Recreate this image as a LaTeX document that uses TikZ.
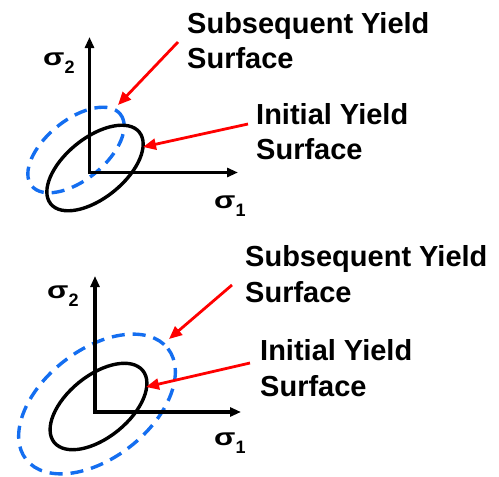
\documentclass[tikz,border=0pt]{standalone}
\usepackage{fontspec}
\setmainfont{Liberation Sans}
\usetikzlibrary{arrows.meta}
\definecolor{surfblue}{RGB}{20,110,240}
\tikzset{
  axis/.style={line width=3.3pt,-{Triangle[length=11pt,width=9pt]}},
  initsurf/.style={line width=3.4pt,black},
  subsurf/.style={line width=3.4pt,surfblue,dash pattern=on 13pt off 8pt},
  pointer/.style={line width=2.8pt,red,-{Triangle[length=13pt,width=11pt]}},
  lbl/.style={inner sep=0pt,anchor=base west,font=\fontsize{29}{35}\selectfont\bfseries},
  sig/.style={inner sep=0pt,anchor=base west,font=\fontsize{24}{24}\selectfont\bfseries}
}
\newcommand{\sigsub}[1]{\scalebox{1.3}[1]{σ}\raisebox{-8pt}{\fontsize{18}{18}\selectfont\bfseries #1}}
\begin{document}
\begin{tikzpicture}[x=1pt,y=-1pt]
\useasboundingbox (0,0) rectangle (499,477);
% ---------- top diagram ----------
\coordinate (o1) at (89.5,172.5);
\coordinate (y1) at (89.5,37);
\coordinate (x1) at (238,172.5);
\draw[subsurf,rotate around={39:(76,150)}] (76,150) ellipse [x radius=57, y radius=30];
\draw[initsurf,rotate around={39:(95,168)}] (95,168) ellipse [x radius=57, y radius=30];
\draw[axis] (o1) -- (y1);
\draw[axis] ([xshift=-1.6pt]o1) -- (x1);
\node[sig] (s2top) at (43,65) {\sigsub{2}};
\node[sig] (s1top) at (214,208) {\sigsub{1}};
\node[lbl] (subA1) at (187,33) {Subsequent Yield};
\node[lbl] (subA2) at (187,68) {Surface};
\node[lbl] (iniA1) at (256,124) {Initial Yield};
\node[lbl] (iniA2) at (256,159) {Surface};
\coordinate (subAtail) at (178,42);
\coordinate (subAhead) at (118,105);
\coordinate (iniAtail) at (248,124);
\coordinate (iniAhead) at (143,147);
\draw[pointer] (subAtail) -- (subAhead);
\draw[pointer] (iniAtail) -- (iniAhead);
% ---------- bottom diagram ----------
\coordinate (o2) at (95,412);
\coordinate (y2) at (95,276);
\coordinate (x2) at (241,412);
\draw[subsurf,rotate around={38:(97,404)}] (97,404) ellipse [x radius=90, y radius=54];
\draw[initsurf,rotate around={39:(98.5,406.5)}] (98.5,406.5) ellipse [x radius=57, y radius=31];
\draw[axis] (o2) -- (y2);
\draw[axis] ([xshift=-1.6pt]o2) -- (x2);
\node[sig] (s2bot) at (47,298) {\sigsub{2}};
\node[sig] (s1bot) at (214,445) {\sigsub{1}};
\node[lbl] (subB1) at (245,266) {Subsequent Yield};
\node[lbl] (subB2) at (245,302) {Surface};
\node[lbl] (iniB1) at (260,360) {Initial Yield};
\node[lbl] (iniB2) at (260,396) {Surface};
\coordinate (subBtail) at (232,285);
\coordinate (subBhead) at (169,339);
\coordinate (iniBtail) at (250,363);
\coordinate (iniBhead) at (146,387);
\draw[pointer] (subBtail) -- (subBhead);
\draw[pointer] (iniBtail) -- (iniBhead);
\end{tikzpicture}
\end{document}
